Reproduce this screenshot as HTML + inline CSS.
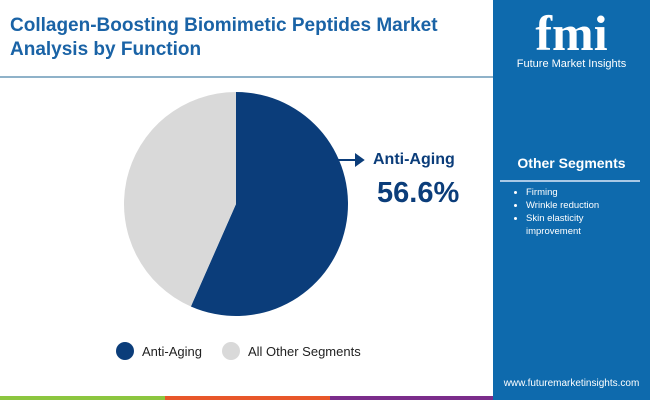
<!DOCTYPE html>
<html><head><meta charset="utf-8"><style>
body{margin:0;width:650px;height:400px;position:relative;overflow:hidden;background:#fff;font-family:"Liberation Sans",sans-serif}
</style></head><body>
<div style="position:absolute;left:10px;top:14px;font-size:19px;font-weight:bold;color:#1a63a6;line-height:24px">Collagen-Boosting Biomimetic Peptides Market<br>Analysis by Function</div>
<div style="position:absolute;left:0;top:76px;width:493px;height:2px;background:#8fb2c9"></div>
<div style="position:absolute;left:493px;top:0;width:157px;height:400px;background:#0e6aad">
 <div style="position:absolute;left:0;width:157px;top:8px;text-align:center;color:#fff;font-size:50px;font-weight:bold;font-family:'Liberation Serif',serif;line-height:50px">fmi</div>
 <div style="position:absolute;left:0;width:157px;top:58px;text-align:center;color:#fff;font-size:11px">Future Market Insights</div>
 <div style="position:absolute;left:0;width:157px;top:155px;text-align:center;color:#fff;font-size:14px;font-weight:bold">Other Segments</div>
 <div style="position:absolute;left:7px;top:180px;width:140px;height:2px;background:#a9c9e6"></div>
 <ul style="position:absolute;left:3px;top:186px;margin:0;padding-left:30px;color:#fff;font-size:9.5px;line-height:13px;width:110px">
  <li>Firming</li>
  <li>Wrinkle reduction</li>
  <li>Skin elasticity improvement</li>
 </ul>
 <div style="position:absolute;left:0;width:157px;top:378px;text-align:center;color:#fff;font-size:10px">www.futuremarketinsights.com</div>
</div>
<div style="position:absolute;left:0;top:396px;width:165px;height:4px;background:#8cc63f"></div>
<div style="position:absolute;left:165px;top:396px;width:165px;height:4px;background:#e8572a"></div>
<div style="position:absolute;left:330px;top:396px;width:163px;height:4px;background:#7b2d8b"></div>
<svg id="pie" width="493" height="396" style="position:absolute;left:0;top:0"></svg>
<div style="position:absolute;left:373px;top:151px;font-size:16px;font-weight:bold;color:#0b3d7a">Anti-Aging</div>
<div style="position:absolute;left:377px;top:177px;font-size:29px;font-weight:bold;color:#0b3d7a">56.6%</div>
<div style="position:absolute;left:116px;top:342px;font-size:13px;color:#222;display:flex;align-items:center">
 <span style="width:18px;height:18px;border-radius:50%;background:#0b3d7a;display:inline-block;margin-right:8px"></span><span style="margin-right:20px">Anti-Aging</span>
 <span style="width:18px;height:18px;border-radius:50%;background:#d9d9d9;display:inline-block;margin-right:8px"></span><span>All Other Segments</span>
</div>
<script>
const categories=["Anti-Aging","All Other Segments"];
const values=[56.6,43.4];
const colors=["#0b3d7a","#d9d9d9"];
const svg=document.getElementById('pie');
const cx=236,cy=204,r=112;
const total=values.reduce((a,b)=>a+b,0);
let a0=-Math.PI/2;
values.forEach((v,i)=>{
 const a1=a0+v/total*2*Math.PI;
 const large=(a1-a0)>Math.PI?1:0;
 const p=document.createElementNS('http://www.w3.org/2000/svg','path');
 p.setAttribute('d',`M${cx},${cy}L${cx+r*Math.cos(a0)},${cy+r*Math.sin(a0)}A${r},${r} 0 ${large} 1 ${cx+r*Math.cos(a1)},${cy+r*Math.sin(a1)}Z`);
 p.setAttribute('fill',colors[i]);
 
 
 svg.appendChild(p);
 a0=a1;
});
const ar=document.createElementNS('http://www.w3.org/2000/svg','path');
ar.setAttribute('d','M332,160L362,160M356,155L363,160L356,165Z');
ar.setAttribute('stroke','#0b3d7a');ar.setAttribute('stroke-width','2');ar.setAttribute('fill','#0b3d7a');


svg.appendChild(ar);
</script>
</body></html>
